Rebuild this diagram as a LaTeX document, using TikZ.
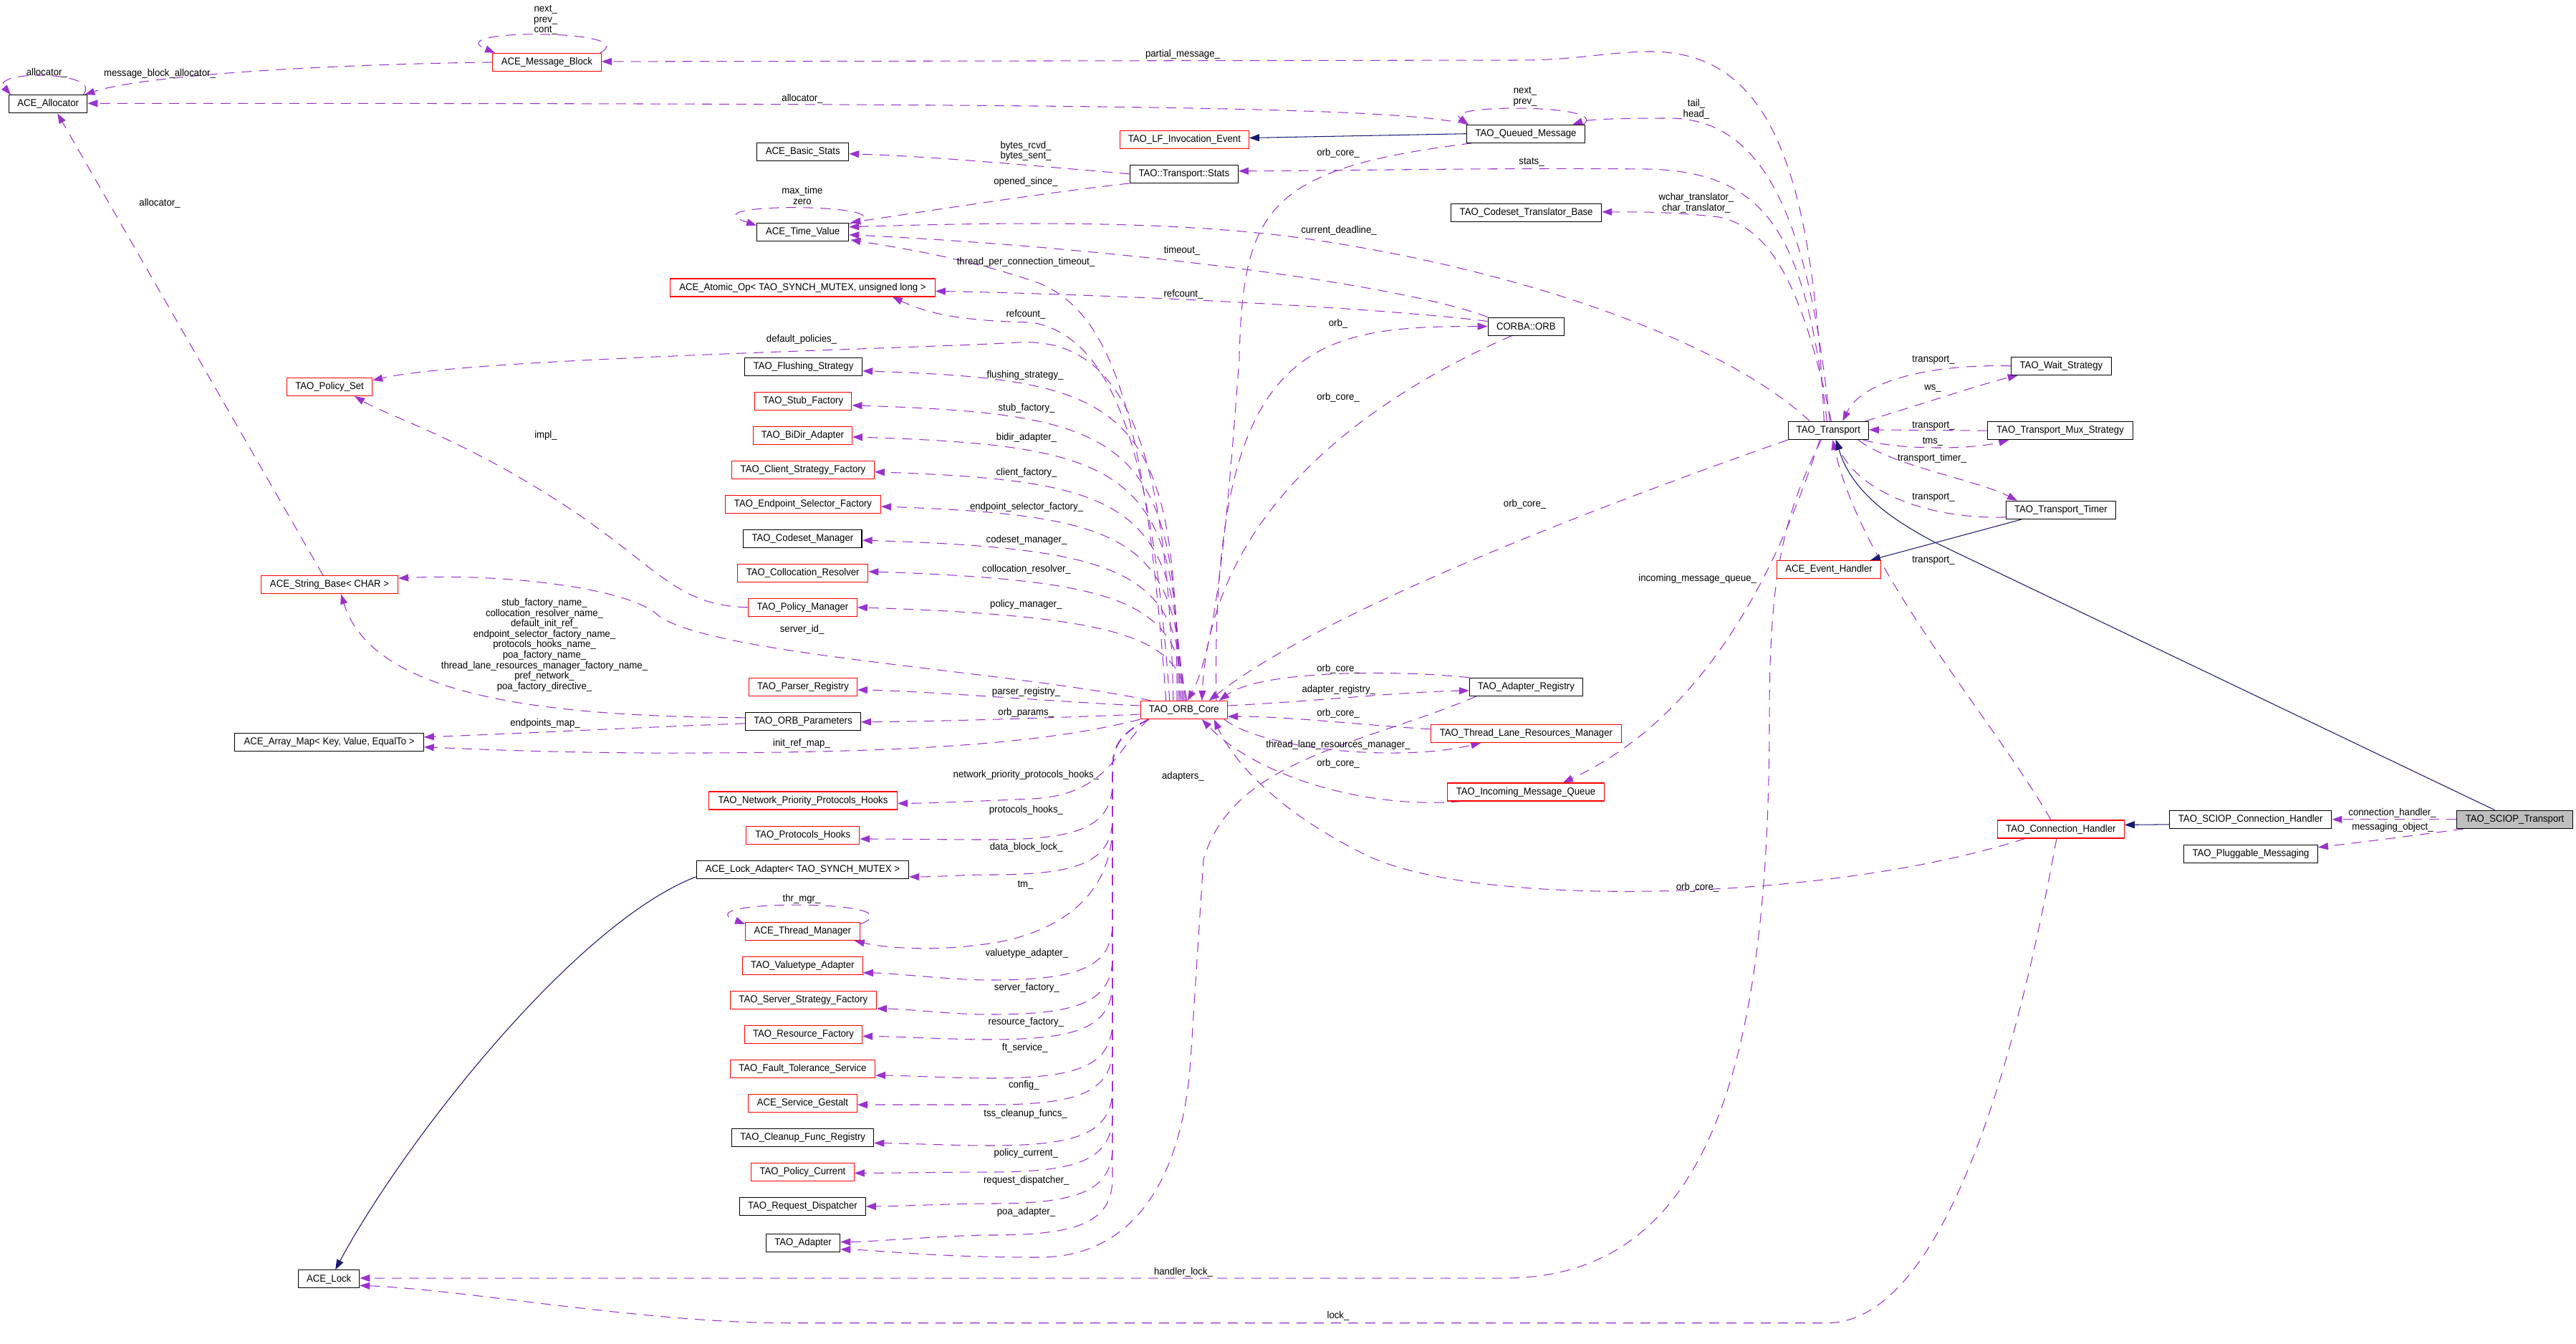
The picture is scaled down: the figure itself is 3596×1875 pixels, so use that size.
\documentclass[tikz,border=0pt]{standalone}
\usepackage{fontspec}
\setmainfont{Liberation Sans}[FakeStretch=0.94]
\usetikzlibrary{arrows.meta}
\definecolor{depc}{HTML}{9A32CD}
\definecolor{inhc}{HTML}{191970}
\pgfdeclarelayer{edges}
\pgfsetlayers{edges,main}
\begin{document}
\begin{tikzpicture}[x=1pt,y=-1pt,
  cls/.style={draw=black, fill=white, line width=1.2pt, minimum height=25pt, inner sep=0pt, font=\fontsize{14}{14.6}\selectfont},
  redc/.style={cls, draw=red},
  grayc/.style={cls, fill=gray!50},
  lab/.style={inner sep=0pt, align=center, font=\fontsize{14}{14.6}\selectfont},
  dep/.style={depc, line width=1.05pt, dash pattern=on 14pt off 10pt, -{Triangle[length=14pt,width=10pt]}},
  inh/.style={inhc, line width=1.05pt, -{Triangle[length=14pt,width=10pt]}}
]
\useasboundingbox (0,0) rectangle (3596,1875);
% ---------------- nodes ----------------
\node[cls, minimum width=109] (al) at (67.2,145.3) {ACE\_Allocator};
\node[redc, minimum width=151.5] (mb) at (763.4,86.9) {ACE\_Message\_Block};
\node[redc, minimum width=118.8] (ps) at (460.1,539.9) {TAO\_Policy\_Set};
\node[redc, minimum width=179.7] (lf) at (1653.4,195) {TAO\_LF\_Invocation\_Event};
\node[cls, minimum width=128] (bs) at (1120.7,211.7) {ACE\_Basic\_Stats};
\node[cls, minimum width=151] (ts) at (1652.8,242.8) {TAO::Transport::Stats};
\node[cls, minimum width=128] (tv) at (1120.7,323.7) {ACE\_Time\_Value};
\node[redc, minimum width=369.6] (ao) at (1120.4,401.4) {ACE\_Atomic\_Op< TAO\_SYNCH\_MUTEX, unsigned long >};
\node[cls, minimum width=164] (fs) at (1121.6,511.8) {TAO\_Flushing\_Strategy};
\node[redc, minimum width=135] (sf) at (1121.3,559.8) {TAO\_Stub\_Factory};
\node[redc, minimum width=137.8] (bd) at (1120.4,607.9) {TAO\_BiDir\_Adapter};
\node[redc, minimum width=198.6] (csf) at (1121,655.7) {TAO\_Client\_Strategy\_Factory};
\node[redc, minimum width=217] (esf) at (1121,704) {TAO\_Endpoint\_Selector\_Factory};
\node[cls, minimum width=165.3] (cm) at (1120.4,752) {TAO\_Codeset\_Manager};
\node[redc, minimum width=182] (cr) at (1120.7,799.8) {TAO\_Collocation\_Resolver};
\node[redc, minimum width=151.6] (pm) at (1120.4,847.8) {TAO\_Policy\_Manager};
\node[redc, minimum width=150.4] (pr) at (1121,958.9) {TAO\_Parser\_Registry};
\node[cls, minimum width=160.8] (op) at (1121,1006.8) {TAO\_ORB\_Parameters};
\node[redc, minimum width=121.2] (oc) at (1652.8,991) {TAO\_ORB\_Core};
\node[redc, minimum width=263] (npph) at (1121,1117.5) {TAO\_Network\_Priority\_Protocols\_Hooks};
\node[redc, minimum width=157.8] (ph) at (1120.7,1165.6) {TAO\_Protocols\_Hooks};
\node[cls, minimum width=296.2] (la) at (1120.4,1213.8) {ACE\_Lock\_Adapter< TAO\_SYNCH\_MUTEX >};
\node[redc, minimum width=159.6] (tm) at (1120.4,1300) {ACE\_Thread\_Manager};
\node[redc, minimum width=167.6] (va) at (1120.4,1347.9) {TAO\_Valuetype\_Adapter};
\node[redc, minimum width=203.8] (ssf) at (1121.3,1395.9) {TAO\_Server\_Strategy\_Factory};
\node[redc, minimum width=164.1] (rf) at (1121.5,1444) {TAO\_Resource\_Factory};
\node[redc, minimum width=202] (fts) at (1120.4,1492) {TAO\_Fault\_Tolerance\_Service};
\node[redc, minimum width=151.6] (sg) at (1120.4,1540) {ACE\_Service\_Gestalt};
\node[cls, minimum width=198] (cfr) at (1120.7,1588) {TAO\_Cleanup\_Func\_Registry};
\node[redc, minimum width=143.5] (pc) at (1120.4,1635.9) {TAO\_Policy\_Current};
\node[cls, minimum width=175.6] (rd) at (1120.4,1683.9) {TAO\_Request\_Dispatcher};
\node[cls, minimum width=103.4] (ad) at (1121,1734.9) {TAO\_Adapter};
\node[cls, minimum width=85] (lk) at (459.2,1785.3) {ACE\_Lock};
\node[redc, minimum width=191] (sb) at (460,816.2) {ACE\_String\_Base< CHAR >};
\node[cls, minimum width=263.4] (am) at (459.5,1035.8) {ACE\_Array\_Map< Key, Value, EqualTo >};
\node[cls, minimum width=165.3] (qm) at (2130,186.7) {TAO\_Queued\_Message};
\node[cls, minimum width=210] (ctb) at (2130.6,297.2) {TAO\_Codeset\_Translator\_Base};
\node[cls, minimum width=106.2] (orb) at (2130.3,455.6) {CORBA::ORB};
\node[cls, minimum width=112] (tr) at (2552.3,600.9) {TAO\_Transport};
\node[cls, minimum width=140] (ws) at (2877.4,510.8) {TAO\_Wait\_Strategy};
\node[cls, minimum width=202.3] (tms) at (2876,601.1) {TAO\_Transport\_Mux\_Strategy};
\node[cls, minimum width=152.6] (tt) at (2876.9,711.9) {TAO\_Transport\_Timer};
\node[redc, minimum width=176.6] (ch) at (2876.9,1157.4) {TAO\_Connection\_Handler};
\node[cls, minimum width=226.3] (sch) at (3141.7,1143.8) {TAO\_SCIOP\_Connection\_Handler};
\node[grayc, minimum width=161.7] (st) at (3510.6,1143.8) {TAO\_SCIOP\_Transport};
\node[cls, minimum width=186.8] (pmsg) at (3142,1191.8) {TAO\_Pluggable\_Messaging};
\node[redc, minimum width=144.6] (eh) at (2553.1,795) {ACE\_Event\_Handler};
\node[cls, minimum width=157.9] (ar) at (2130.4,958.9) {TAO\_Adapter\_Registry};
\node[redc, minimum width=265.7] (tlrm) at (2130.4,1023.8) {TAO\_Thread\_Lane\_Resources\_Manager};
\node[redc, minimum width=219.3] (imq) at (2130,1105.5) {TAO\_Incoming\_Message\_Queue};
\coordinate (ocb) at ([shift={(12,0)}]oc.south west);
% ---------------- labels ----------------
\node[lab] (l1) at (65.3,101.6) {allocator\_};
\node[lab] (l2) at (223,102.8) {message\_block\_allocator\_};
\node[lab] (l3) at (761.7,28.2) {next\_\\prev\_\\cont\_};
\node[lab] (l4) at (1651,75.7) {partial\_message\_};
\node[lab] (l5) at (1120,137.5) {allocator\_};
\node[lab] (l6) at (2129,135.2) {next\_\\prev\_};
\node[lab] (l7) at (2368,152.5) {tail\_\\head\_};
\node[lab] (l8) at (1432,210.9) {bytes\_rcvd\_\\bytes\_sent\_};
\node[lab] (l9) at (1868,214) {orb\_core\_};
\node[lab] (l10) at (2138,226) {stats\_};
\node[lab] (l11) at (1432,253.5) {opened\_since\_};
\node[lab] (l12) at (1119.8,272.7) {max\_time\\zero};
\node[lab] (l13) at (2368,283.5) {wchar\_translator\_\\char\_translator\_};
\node[lab] (l14) at (1869,321.7) {current\_deadline\_};
\node[lab] (l15) at (1650,349.6) {timeout\_};
\node[lab] (l16) at (1432,365.5) {thread\_per\_connection\_timeout\_};
\node[lab] (l17) at (1652,410.6) {refcount\_};
\node[lab] (l18) at (1432,438.5) {refcount\_};
\node[lab] (l19) at (1868,451.6) {orb\_};
\node[lab] (l20) at (1119,474.3) {default\_policies\_};
\node[lab] (l21) at (2699,502) {transport\_};
\node[lab] (l22) at (1431,523.4) {flushing\_strategy\_};
\node[lab] (l23) at (2698,542) {ws\_};
\node[lab] (l24) at (1868,555) {orb\_core\_};
\node[lab] (l25) at (1433,570) {stub\_factory\_};
\node[lab] (l26) at (2699,594) {transport\_};
\node[lab] (l27) at (762,608) {impl\_};
\node[lab] (l28) at (1433,611) {bidir\_adapter\_};
\node[lab] (l29) at (2698,616) {tms\_};
\node[lab] (l30) at (2697,639.7) {transport\_timer\_};
\node[lab] (l31) at (1433,659.7) {client\_factory\_};
\node[lab] (l32) at (2699,694.8) {transport\_};
\node[lab] (l33) at (2128.6,704) {orb\_core\_};
\node[lab] (l34) at (1433,707.5) {endpoint\_selector\_factory\_};
\node[lab] (l35) at (1433,753.7) {codeset\_manager\_};
\node[lab] (l36) at (2699,782.8) {transport\_};
\node[lab] (l37) at (1433,794.8) {collocation\_resolver\_};
\node[lab] (l38) at (2369.7,808) {incoming\_message\_queue\_};
\node[lab] (l39) at (1432.3,843.4) {policy\_manager\_};
\node[lab] (l40) at (760,900.2) {stub\_factory\_name\_\\collocation\_resolver\_name\_\\default\_init\_ref\_\\endpoint\_selector\_factory\_name\_\\protocols\_hooks\_name\_\\poa\_factory\_name\_\\thread\_lane\_resources\_manager\_factory\_name\_\\pref\_network\_\\poa\_factory\_directive\_};
\node[lab] (l41) at (1119.6,878.5) {server\_id\_};
\node[lab] (l42) at (1868,934) {orb\_core\_};
\node[lab] (l43) at (1868.7,962.6) {adapter\_registry\_};
\node[lab] (l44) at (1432.5,965.8) {parser\_registry\_};
\node[lab] (l45) at (1432.2,995) {orb\_params\_};
\node[lab] (l46) at (1868,995.7) {orb\_core\_};
\node[lab] (l47) at (761,1009.6) {endpoints\_map\_};
\node[lab] (l48) at (1119,1037.6) {init\_ref\_map\_};
\node[lab] (l49) at (1868,1040) {thread\_lane\_resources\_manager\_};
\node[lab] (l50) at (1868,1066) {orb\_core\_};
\node[lab] (l51) at (1432.4,1081.4) {network\_priority\_protocols\_hooks\_};
\node[lab] (l52) at (1651.4,1083.4) {adapters\_};
\node[lab] (l53) at (1432.4,1131.2) {protocols\_hooks\_};
\node[lab] (l54) at (3339.5,1134.4) {connection\_handler\_};
\node[lab] (l55) at (3340,1155.2) {messaging\_object\_};
\node[lab] (l56) at (1432.7,1183) {data\_block\_lock\_};
\node[lab] (l57) at (1431.5,1235.6) {tm\_};
\node[lab] (l58) at (2369.5,1238.8) {orb\_core\_};
\node[lab] (l59) at (1119,1254.8) {thr\_mgr\_};
\node[lab] (l60) at (1433.3,1330.5) {valuetype\_adapter\_};
\node[lab] (l61) at (1433.3,1378.4) {server\_factory\_};
\node[lab] (l62) at (1432.3,1426.6) {resource\_factory\_};
\node[lab] (l63) at (1430.7,1462.5) {ft\_service\_};
\node[lab] (l64) at (1429.3,1515) {config\_};
\node[lab] (l65) at (1431.5,1554.5) {tss\_cleanup\_funcs\_};
\node[lab] (l66) at (1432.3,1609.5) {policy\_current\_};
\node[lab] (l67) at (1432.7,1647.4) {request\_dispatcher\_};
\node[lab] (l68) at (1432.5,1691.6) {poa\_adapter\_};
\node[lab] (l69) at (1652,1775.4) {handler\_lock\_};
\node[lab] (l70) at (1868,1837) {lock\_};
\node[lab] (l71) at (223,283.8) {allocator\_};
% ---------------- edges ----------------
\begin{pgfonlayer}{edges}
\fill[white] (0,0) rectangle (3596,1875);
% self loops
\draw[dep] ([shift={(-6,0)}]al.north east) .. controls (145,98) and (-15,98) .. ([shift={(3,0)}]al.north west);
\draw[dep] ([shift={(-2,0)}]mb.north east) .. controls (900,40) and (610,40) .. ([shift={(4,0)}]mb.north west);
\draw[dep] ([shift={(0,2)}]tv.north east) .. controls (1290,285) and (950,280) .. ([shift={(0,4)}]tv.north west);
\draw[dep] ([shift={(-3,0)}]qm.north east) .. controls (2250,145) and (2010,145) .. ([shift={(3,0)}]qm.north west);
\draw[dep] ([shift={(0,3)}]tm.north east) .. controls (1290,1255) and (950,1255) .. ([shift={(0,3)}]tm.north west);
% allocator
\draw[dep] (mb.west) .. controls (450,90) and (200,105) .. ([shift={(-4,0)}]al.north east);
\draw[dep] ([shift={(2,0)}]qm.north west) .. controls (1950,150) and (1600,144) .. ([shift={(0,-1)}]al.east);
\draw[dep] ([shift={(-9,0)}]sb.north) -- ([shift={(13,0)}]al.south);
% transport top
\draw[dep] ([shift={(-6,0)}]tr.north) .. controls (2530,230) and (2470,70) .. (2300,72) .. controls (2240,73) and (2200,84) .. (2120,84) -- ([shift={(0,-1)}]mb.east);
\draw[dep] ([shift={(-2,0)}]tr.north) .. controls (2520,330) and (2470,240) .. (2300,236) .. controls (2100,234) and (1900,238) .. ([shift={(0,-4)}]ts.east);
\draw[dep] ([shift={(2,0)}]tr.north) .. controls (2525,300) and (2460,165) .. (2330,165) .. controls (2270,165) and (2220,166) .. ([shift={(-18,0)}]qm.north east);
\draw[dep] ([shift={(4,0)}]tr.north) .. controls (2520,420) and (2480,320) .. (2400,303) .. controls (2330,295) and (2280,295.8) .. ([shift={(0,-1.4)}]ctb.east);
\draw[dep] ([shift={(-26,0)}]tr.north) .. controls (2400,470) and (2100,370) .. (1800,330) .. controls (1600,305) and (1350,312) .. ([shift={(0,-7)}]tv.east);
% stats
\draw[dep] (ts.west) .. controls (1450,232) and (1300,218) .. ([shift={(0,3)}]bs.east);
\draw[dep] (ts.south west) .. controls (1450,270) and (1280,297) .. ([shift={(2,0)}]tv.north east);
% orb
\draw[dep] (orb.north west) .. controls (1950,395) and (1550,345) .. ([shift={(0,4)}]tv.east);
\draw[dep] ([shift={(0,6)}]orb.north west) .. controls (1950,432) and (1600,412) .. ([shift={(0,5)}]ao.east);
\draw[dep] ([shift={(-20,0)}]orb.south) .. controls (1900,560) and (1690,720) .. ([shift={(25,0)}]oc.north);
\draw[dep] ([shift={(45,0)}]oc.north) .. controls (1690,480) and (1830,455) .. (orb.west);
\draw[dep] ([shift={(8,0)}]qm.south west) .. controls (1770,235) and (1735,290) .. (1730,500) .. controls (1715,700) and (1700,900) .. ([shift={(5,0)}]oc.north);
\draw[dep] (tr.south west) .. controls (2250,700) and (1850,850) .. ([shift={(35,0)}]oc.north);
% oc upward
\draw[dep] ([shift={(-25,0)}]oc.north) .. controls (1600,600) and (1560,440) .. (1450,395) .. controls (1350,360) and (1250,345) .. ([shift={(2,-2)}]tv.south east);
\draw[dep] ([shift={(-20,0)}]oc.north) .. controls (1610,650) and (1560,470) .. (1440,450) .. controls (1350,448) and (1300,440) .. ([shift={(-60,0)}]ao.south east);
\draw[dep] ([shift={(-15,0)}]oc.north) .. controls (1630,600) and (1560,470) .. (1420,478) .. controls (1300,486) and (650,500) .. ([shift={(0,-9)}]ps.east);
\draw[dep] (pm.west) .. controls (940,845) and (920,790) .. (780,700) .. controls (640,610) and (540,580) .. ([shift={(35,0)}]ps.south);
\draw[dep] ([shift={(-10,0)}]oc.north) .. controls (1645,563) and (1575,530) .. ([shift={(0,6)}]fs.east);
\draw[dep] ([shift={(-8,0)}]oc.north) .. controls (1645,611) and (1575,578) .. ([shift={(0,6)}]sf.east);
\draw[dep] ([shift={(-6,0)}]oc.north) .. controls (1645,655) and (1575,622) .. ([shift={(0,2)}]bd.east);
\draw[dep] ([shift={(-4,0)}]oc.north) .. controls (1645,704) and (1575,671) .. ([shift={(0,3)}]csf.east);
\draw[dep] ([shift={(-2,0)}]oc.north) .. controls (1645,752) and (1575,719) .. ([shift={(0,3)}]esf.east);
\draw[dep] (oc.north) .. controls (1645,799) and (1575,766) .. ([shift={(0,2)}]cm.east);
\draw[dep] ([shift={(2,0)}]oc.north) .. controls (1645,843) and (1575,810) .. ([shift={(0,-2)}]cr.east);
\draw[dep] ([shift={(4,0)}]oc.north) .. controls (1645,893) and (1575,860) .. (pm.east);
\draw[dep] ([shift={(15,0)}]oc.north west) .. controls (1400,935) and (1000,915) .. (920,860) .. controls (880,820) and (700,800) .. ([shift={(0,-9)}]sb.east);
\draw[dep] ([shift={(0,-6)}]oc.west) .. controls (1450,978) and (1300,965) .. ([shift={(0,4)}]pr.east);
\draw[dep] ([shift={(0,6)}]oc.west) .. controls (1450,1003) and (1300,1007) .. ([shift={(0,1)}]op.east);
\draw[dep] (oc.south west) .. controls (1450,1040) and (1250,1052) .. (900,1051) .. controls (750,1050) and (650,1045) .. ([shift={(0,7)}]am.east);
\draw[dep] ([shift={(0,-5)}]op.west) .. controls (750,1000) and (520,970) .. ([shift={(16,0)}]sb.south);
\draw[dep] ([shift={(0,3)}]op.west) .. controls (900,1015) and (700,1025) .. ([shift={(0,-7)}]am.east);
% oc downward
\draw[dep] (ocb) .. controls (1560,1040) and (1550,1110) .. (1440,1115) .. controls (1350,1119) and (1300,1121) .. ([shift={(0,4)}]npph.east);
\draw[dep] (ocb) .. controls (1560,1025) and (1553,1045) .. (1553,1075) -- (1553,1092) .. controls (1553,1157) and (1500,1172) .. (1380,1172) .. controls (1330,1172) and (1240,1171) .. ([shift={(0,5.4)}]ph.east);
\draw[dep] (ocb) .. controls (1560,1025) and (1553,1045) .. (1553,1075) -- (1553,1141) .. controls (1553,1206) and (1500,1221) .. (1380,1221) .. controls (1340,1221) and (1308,1224) .. ([shift={(0,10)}]la.east);
\draw[dep] (ocb) .. controls (1560,1025) and (1553,1045) .. (1553,1075) -- (1553,1150) .. controls (1553,1250) and (1480,1300) .. (1388,1316) .. controls (1300,1330) and (1230,1322) .. ([shift={(-8,0)}]tm.south east);
\draw[dep] (ocb) .. controls (1560,1025) and (1553,1045) .. (1553,1075) -- (1553,1288) .. controls (1553,1353) and (1500,1368) .. (1380,1368) .. controls (1330,1368) and (1244,1358) .. ([shift={(0,10)}]va.east);
\draw[dep] (ocb) .. controls (1560,1025) and (1553,1045) .. (1553,1075) -- (1553,1336) .. controls (1553,1401) and (1500,1416) .. (1380,1416) .. controls (1330,1416) and (1263,1408) .. ([shift={(0,12)}]ssf.east);
\draw[dep] (ocb) .. controls (1560,1025) and (1553,1045) .. (1553,1075) -- (1553,1371) .. controls (1553,1436) and (1500,1451) .. (1380,1451) .. controls (1330,1451) and (1244,1446.5) .. ([shift={(0,2.5)}]rf.east);
\draw[dep] (ocb) .. controls (1560,1025) and (1553,1045) .. (1553,1075) -- (1553,1425) .. controls (1553,1490) and (1500,1505) .. (1380,1505) .. controls (1330,1505) and (1261,1501) .. ([shift={(0,9)}]fts.east);
\draw[dep] (ocb) .. controls (1560,1025) and (1553,1045) .. (1553,1075) -- (1553,1462) .. controls (1553,1527) and (1500,1542) .. (1380,1542) .. controls (1330,1542) and (1236,1542) .. ([shift={(0,2)}]sg.east);
\draw[dep] (ocb) .. controls (1560,1025) and (1553,1045) .. (1553,1075) -- (1553,1519) .. controls (1553,1584) and (1500,1599) .. (1380,1599) .. controls (1330,1599) and (1260,1595.6) .. ([shift={(0,7.6)}]cfr.east);
\draw[dep] (ocb) .. controls (1560,1025) and (1553,1045) .. (1553,1075) -- (1553,1556) .. controls (1553,1621) and (1500,1636) .. (1380,1636) .. controls (1330,1636) and (1232,1637.4) .. ([shift={(0,1.5)}]pc.east);
\draw[dep] (ocb) .. controls (1560,1025) and (1553,1045) .. (1553,1075) -- (1553,1600) .. controls (1553,1665) and (1500,1680) .. (1380,1680) .. controls (1330,1680) and (1248,1684) .. (rd.east);
\draw[dep] (ocb) .. controls (1560,1025) and (1553,1045) .. (1553,1075) -- (1553,1644) .. controls (1553,1709) and (1500,1724) .. (1380,1724) .. controls (1330,1724) and (1213,1733.5) .. ([shift={(0,-1.4)}]ad.east);
% right cluster around oc
\draw[dep] ([shift={(0,-6)}]oc.east) .. controls (1850,978) and (1950,966) .. ([shift={(0,5)}]ar.west);
\draw[dep] (ar.north west) .. controls (1950,935) and (1760,935) .. ([shift={(-12,0)}]oc.north east);
\draw[dep] ([shift={(0,-6)}]tlrm.west) .. controls (1900,1012) and (1800,1000) .. ([shift={(0,9)}]oc.east);
\draw[dep] ([shift={(-5,0)}]oc.south east) .. controls (1760,1045) and (1950,1065) .. ([shift={(-63,0)}]tlrm.south);
\draw[dep] ([shift={(20,0)}]imq.south west) .. controls (1900,1130) and (1750,1080) .. ([shift={(25,0)}]oc.south);
\draw[dep] ([shift={(-50,0)}]ch.south) .. controls (2550,1260) and (2050,1270) .. (1900,1190) .. controls (1780,1130) and (1720,1060) .. ([shift={(42,0)}]oc.south);
\draw[dep] ([shift={(10,0)}]ar.south west) .. controls (1900,1040) and (1720,1060) .. (1680,1200) -- (1662,1480) .. controls (1650,1650) and (1580,1755) .. (1450,1755) .. controls (1300,1755) and (1230,1745) .. ([shift={(0,9)}]ad.east);
% transport bottom
\draw[dep] ([shift={(-12,0)}]tr.south) .. controls (2480,800) and (2380,1000) .. ([shift={(52,0)}]imq.north);
\draw[dep] ([shift={(-10,0)}]tr.south) .. controls (2490,720) and (2470,800) .. (2470,1000) .. controls (2470,1500) and (2380,1784) .. (2100,1784) -- ([shift={(0,-1.3)}]lk.east);
\draw[dep] ([shift={(-6,0)}]ch.south) .. controls (2820,1450) and (2720,1846) .. (2550,1846.7) -- (1100,1846.7) .. controls (900,1846.7) and (650,1800) .. ([shift={(0,9)}]lk.east);
% transport right
\draw[dep] ([shift={(-5,0)}]tr.north east) .. controls (2680,565) and (2770,535) .. ([shift={(10,0)}]ws.south west);
\draw[dep] (ws.west) .. controls (2700,508) and (2600,530) .. ([shift={(20,0)}]tr.north);
\draw[dep] (tms.west) -- ([shift={(0,-1)}]tr.east);
\draw[dep] ([shift={(-8,0)}]tr.south east) .. controls (2650,628) and (2750,628) .. ([shift={(30,0)}]tms.south west);
\draw[dep] ([shift={(-15,0)}]tr.south east) .. controls (2640,650) and (2760,670) .. ([shift={(16,0)}]tt.north west);
\draw[dep] ([shift={(0,10)}]tt.west) .. controls (2680,725) and (2590,680) .. ([shift={(10,0)}]tr.south);
\draw[dep] ([shift={(-14,0)}]ch.north) .. controls (2780,1000) and (2600,800) .. ([shift={(6,0)}]tr.south);
% sciop
\draw[dep] (st.west) -- (sch.east);
\draw[dep] ([shift={(10,0)}]st.south west) .. controls (3380,1165) and (3300,1175) .. ([shift={(0,-9)}]pmsg.east);
% inheritance
\draw[inh] (qm.west) -- ([shift={(0,-2.5)}]lf.east);
\draw[inh] ([shift={(22,0)}]tt.south west) -- ([shift={(-15,0)}]eh.north east);
\draw[inh] ([shift={(-28,0)}]st.north) -- (2700,756.5) .. controls (2650,730) and (2585,690) .. ([shift={(11,0)}]tr.south);
\draw[inh] ([shift={(0,7)}]sch.west) -- ([shift={(0,-6)}]ch.east);
\draw[inh] ([shift={(0,10)}]la.west) .. controls (800,1290) and (560,1600) .. ([shift={(9,0)}]lk.north);
\end{pgfonlayer}
\end{tikzpicture}
\end{document}
